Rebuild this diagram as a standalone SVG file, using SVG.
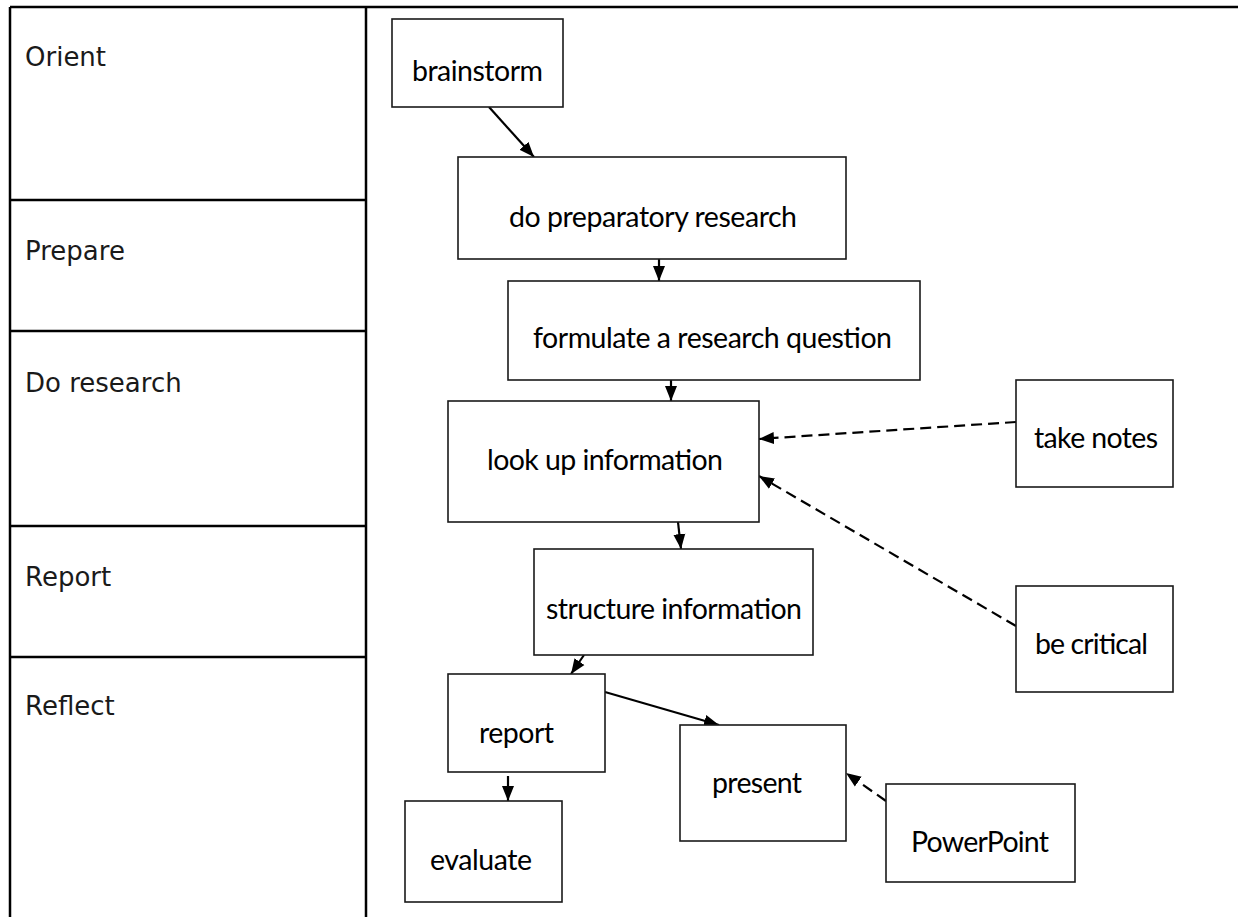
<svg xmlns="http://www.w3.org/2000/svg" width="1238" height="917" viewBox="0 0 1238 917">
<style>
.grid{stroke:#000;stroke-width:2.5;fill:none}
.lbl{font-family:"DejaVu Sans","Liberation Sans",sans-serif;font-size:26px;fill:#1a1a1a}
.box{fill:#fff;stroke:#1a1a1a;stroke-width:1.6}
.txt{font-family:Lato,"Open Sans",sans-serif;font-size:28.5px;fill:#000}
.con{stroke:#000;stroke-width:2.2;fill:none;marker-end:url(#ah)}
.dash{stroke-dasharray:11 6}
</style>
<defs>
<marker id="ah" markerUnits="userSpaceOnUse" markerWidth="16" markerHeight="14" viewBox="0 0 16 14" refX="15" refY="7" orient="auto">
<path d="M0,1 L15,7 L0,13 Z" fill="#000"/>
</marker>
</defs>
<rect width="1238" height="917" fill="#fff"/>
<g id="table">
<line class="grid" x1="10" y1="7" x2="1238" y2="7"/>
<line class="grid" x1="10" y1="7" x2="10" y2="917"/>
<line class="grid" x1="366" y1="7" x2="366" y2="917"/>
<line class="grid" x1="10" y1="200" x2="366" y2="200"/>
<line class="grid" x1="10" y1="331" x2="366" y2="331"/>
<line class="grid" x1="10" y1="526" x2="366" y2="526"/>
<line class="grid" x1="10" y1="657" x2="366" y2="657"/>
<text class="lbl" x="25" y="66">Orient</text>
<text class="lbl" x="25" y="260">Prepare</text>
<text class="lbl" x="25" y="392">Do research</text>
<text class="lbl" x="25" y="586">Report</text>
<text class="lbl" x="25" y="715">Reflect</text>
</g>
<g id="connectors">
<line class="con" x1="489" y1="107" x2="534" y2="157"/>
<line class="con" x1="659" y1="259" x2="659" y2="281"/>
<line class="con" x1="671" y1="380" x2="671" y2="401"/>
<line class="con" x1="678" y1="522" x2="681" y2="549"/>
<line class="con" x1="584" y1="655" x2="571" y2="674"/>
<line class="con" x1="605" y1="692" x2="719" y2="725"/>
<line class="con" x1="508" y1="776" x2="508" y2="801"/>
<line class="con dash" x1="1016" y1="422" x2="759" y2="439"/>
<line class="con dash" x1="1016" y1="626" x2="759" y2="476"/>
<line class="con dash" x1="886" y1="801" x2="846" y2="773"/>
</g>
<g id="brainstorm"><rect class="box" x="392" y="19" width="171" height="88"/><text class="txt" x="412" y="81" textLength="131" lengthAdjust="spacing">brainstorm</text></g>
<g id="prep"><rect class="box" x="458" y="157" width="388" height="102"/><text class="txt" x="509" y="227" textLength="288" lengthAdjust="spacing">do preparatory research</text></g>
<g id="formulate"><rect class="box" x="508" y="281" width="412" height="99"/><text class="txt" x="533" y="348" textLength="359" lengthAdjust="spacing">formulate a research question</text></g>
<g id="lookup"><rect class="box" x="448" y="401" width="311" height="121"/><text class="txt" x="487" y="470" textLength="236" lengthAdjust="spacing">look up information</text></g>
<g id="takenotes"><rect class="box" x="1016" y="380" width="157" height="107"/><text class="txt" x="1034" y="448" textLength="124" lengthAdjust="spacing">take notes</text></g>
<g id="structure"><rect class="box" x="534" y="549" width="279" height="106"/><text class="txt" x="546" y="619" textLength="256" lengthAdjust="spacing">structure information</text></g>
<g id="becritical"><rect class="box" x="1016" y="586" width="157" height="106"/><text class="txt" x="1035" y="654" textLength="113" lengthAdjust="spacing">be critical</text></g>
<g id="report"><rect class="box" x="448" y="674" width="157" height="98"/><text class="txt" x="479" y="743" textLength="75" lengthAdjust="spacing">report</text></g>
<g id="present"><rect class="box" x="680" y="725" width="166" height="116"/><text class="txt" x="712" y="793" textLength="90" lengthAdjust="spacing">present</text></g>
<g id="evaluate"><rect class="box" x="405" y="801" width="157" height="101"/><text class="txt" x="430" y="870" textLength="102" lengthAdjust="spacing">evaluate</text></g>
<g id="powerpoint"><rect class="box" x="886" y="784" width="189" height="98"/><text class="txt" x="911" y="852" textLength="138" lengthAdjust="spacing">PowerPoint</text></g>
</svg>
